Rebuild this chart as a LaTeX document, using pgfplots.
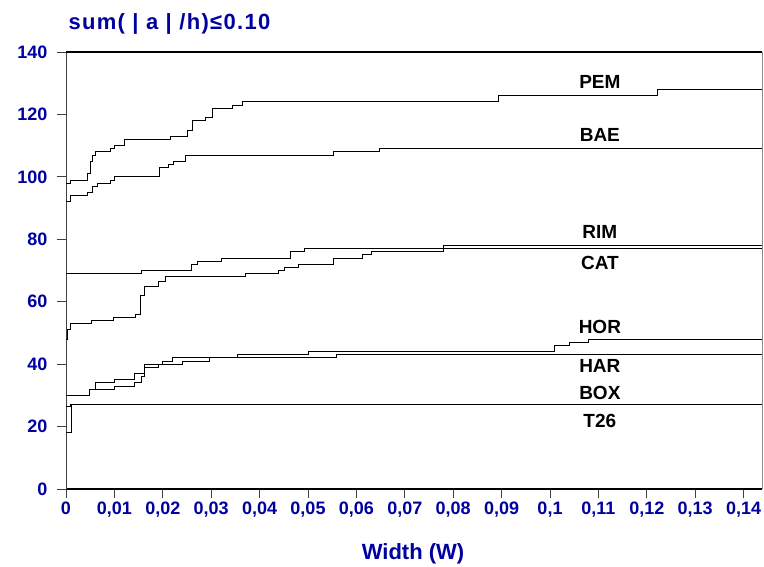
\documentclass[border=0pt]{standalone}
\usepackage{pgfplots}
\pgfplotsset{compat=1.18}
\usepackage{fontspec}
\setmainfont{Liberation Sans}
\newfontfamily\widefont[LetterSpace=6]{Liberation Sans}
\definecolor{lblue}{HTML}{0000A0}

\begin{document}
\begin{tikzpicture}
\useasboundingbox (0,0) rectangle (764pt,567pt);
\begin{axis}[
	at={(66pt,78pt)}, anchor=south west,
	width=696pt, height=437pt, scale only axis,
	xmin=0, xmax=0.1438, ymin=0, ymax=140,
	axis x line=bottom, axis y line=left,
	x axis line style={-, line width=1.6pt, black},
	y axis line style={-, line width=1pt, black!75},
	tick align=outside,
	major tick length=9pt,
	tick style={black!75, line width=0.8pt},
	xtick={0,0.01,...,0.14},
	xticklabels={0,{0,01},{0,02},{0,03},{0,04},{0,05},{0,06},{0,07},{0,08},{0,09},{0,1},{0,11},{0,12},{0,13},{0,14}},
	ytick={0,20,...,140},
	/pgf/number format/assume math mode=true,
	ticklabel style={font=\fontsize{18}{18}\selectfont\bfseries, text=lblue},
	yticklabel style={xshift=-6pt},
	curve/.style={const plot, black, line width=0.9pt, mark=none},
	clip=false,
]
% PEM
\addplot[curve] coordinates {(0,98) (0.001,99) (0.0045,101) (0.005,105) (0.0055,107) (0.006,108) (0.0091,109) (0.0101,110) (0.012,112) (0.0215,113) (0.025,115) (0.0262,118) (0.0289,119) (0.0302,122) (0.0343,123) (0.0364,124) (0.0893,126) (0.1221,128) (0.1438,128)};
% BAE
\addplot[curve] coordinates {(0,92) (0.001,94) (0.0045,95) (0.0054,97) (0.0064,98) (0.0091,99) (0.0101,100) (0.0194,103) (0.0211,104) (0.0221,105) (0.0246,107) (0.0552,108) (0.0647,109) (0.1438,109)};
% RIM
\addplot[curve] coordinates {(0,69) (0.0155,70) (0.026,72) (0.0272,73) (0.0322,74) (0.0464,76) (0.0492,77) (0.0779,78) (0.1438,78)};
% CAT
\addplot[curve] coordinates {(0,48) (0.0003,51) (0.001,53) (0.0053,54) (0.0098,55) (0.0143,56) (0.0153,62) (0.0163,65) (0.019,66.5) (0.0205,68) (0.037,69) (0.0439,70) (0.0452,71) (0.048,72) (0.0552,74) (0.0612,75) (0.0632,76) (0.0779,77) (0.1438,77)};
% HOR
\addplot[curve] coordinates {(0,30) (0.0048,32) (0.006,34) (0.0101,35) (0.0142,37) (0.0163,40) (0.020,41) (0.022,42) (0.0355,43) (0.050,44) (0.101,46) (0.104,47) (0.108,48) (0.1438,48)};
% HAR
\addplot[curve] coordinates {(0,30) (0.0048,32) (0.0101,33) (0.0142,34) (0.0155,36) (0.0163,39) (0.019,40) (0.024,41) (0.0297,42) (0.0559,43) (0.1438,43)};
% BOX
\addplot[curve] coordinates {(0,26.4) (0.001,27) (0.1438,27)};
% T26
\addplot[curve] coordinates {(0,18) (0.0012,27) (0.1438,27)};

\draw[black, line width=1.6pt] (rel axis cs:0,1) -- (rel axis cs:1,1);
\draw[black!45, line width=0.8pt] (rel axis cs:1,0) -- (rel axis cs:1,1);

\begin{scope}[every node/.style={font=\fontsize{19}{19}\selectfont\bfseries, black}]
\node at (axis cs:0.1103,130.4) {PEM};
\node at (axis cs:0.1103,113.5) {BAE};
\node at (axis cs:0.1103,82.4) {RIM};
\node at (axis cs:0.1103,72.4) {CAT};
\node at (axis cs:0.1103,51.9) {HOR};
\node at (axis cs:0.1103,39.4) {HAR};
\node at (axis cs:0.1103,30.8) {BOX};
\node at (axis cs:0.1103,21.8) {T26};
\end{scope}
\end{axis}
\node[anchor=base west, text=lblue, font=\widefont\fontsize{22}{22}\selectfont\bfseries] at (65pt,537pt) {sum( | a | /h)≤0.10};
\node[anchor=base, text=lblue, font=\fontsize{22}{22}\selectfont\bfseries] at (413pt,7pt) {Width (W)};
\end{tikzpicture}
\end{document}
